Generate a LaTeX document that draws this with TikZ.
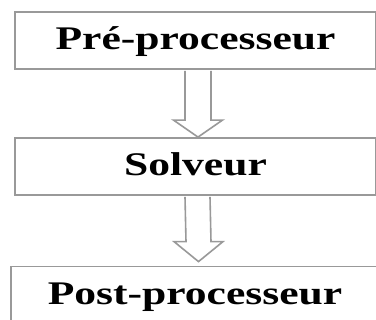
\documentclass[tikz,border=0pt]{standalone}
\usepackage{fontspec}
\setmainfont{Liberation Serif}
\usetikzlibrary{calc}
\begin{document}
\begin{tikzpicture}[x=1pt,y=-1pt,
  box/.style={draw=black!40, line width=1.8pt, rectangle, inner sep=0pt,
    minimum height=57pt, text height=22pt, text depth=3pt,
    font=\fontsize{33}{33}\selectfont\bfseries},
  hollow/.style={draw=black!40, fill=white, line width=1.6pt, line join=miter}]
  \useasboundingbox (0,0) rectangle (376,320);
  \clip (0,0) rectangle (376,320);
  \fill[white] (0,0) rectangle (376,320);

  % stages (boxes run past the right border)
  \path node[box, minimum width=361pt] (pre) at (195.5,40.5) {\scalebox{1.32}[1]{Pré-processeur}};
  \path node[box, minimum width=361pt] (sol) at (195.5,166.5) {\scalebox{1.32}[1]{Solveur}};
  \path node[box, minimum width=372pt] (post) at (197,295) {\hspace*{-4pt}\scalebox{1.32}[1]{Post-processeur}};

  % hollow block arrows between stages
  \coordinate (a1) at ($(pre.south)+(2.5,0)$);
  \coordinate (b1) at ($(sol.north)+(2.5,0)$);
  \coordinate (a2) at ($(sol.south)+(2,0)$);
  \coordinate (b2) at ($(post.north)+(1.5,-4)$);

  \filldraw[hollow] ($(a1)+(-13,0.9)$) -- ($(b1)+(-13,-17)$) -- ($(b1)+(-24.5,-17)$)
     -- (b1) -- ($(b1)+(24.5,-17)$) -- ($(b1)+(13,-17)$) -- ($(a1)+(13,0.9)$);
  \filldraw[hollow] ($(a2)+(-12.5,0.9)$) -- ($(b2)+(-12.5,-20)$) -- ($(b2)+(-24.5,-20)$)
     -- (b2) -- ($(b2)+(24.5,-20)$) -- ($(b2)+(12.5,-20)$) -- ($(a2)+(12.5,0.9)$);
\end{tikzpicture}
\end{document}
